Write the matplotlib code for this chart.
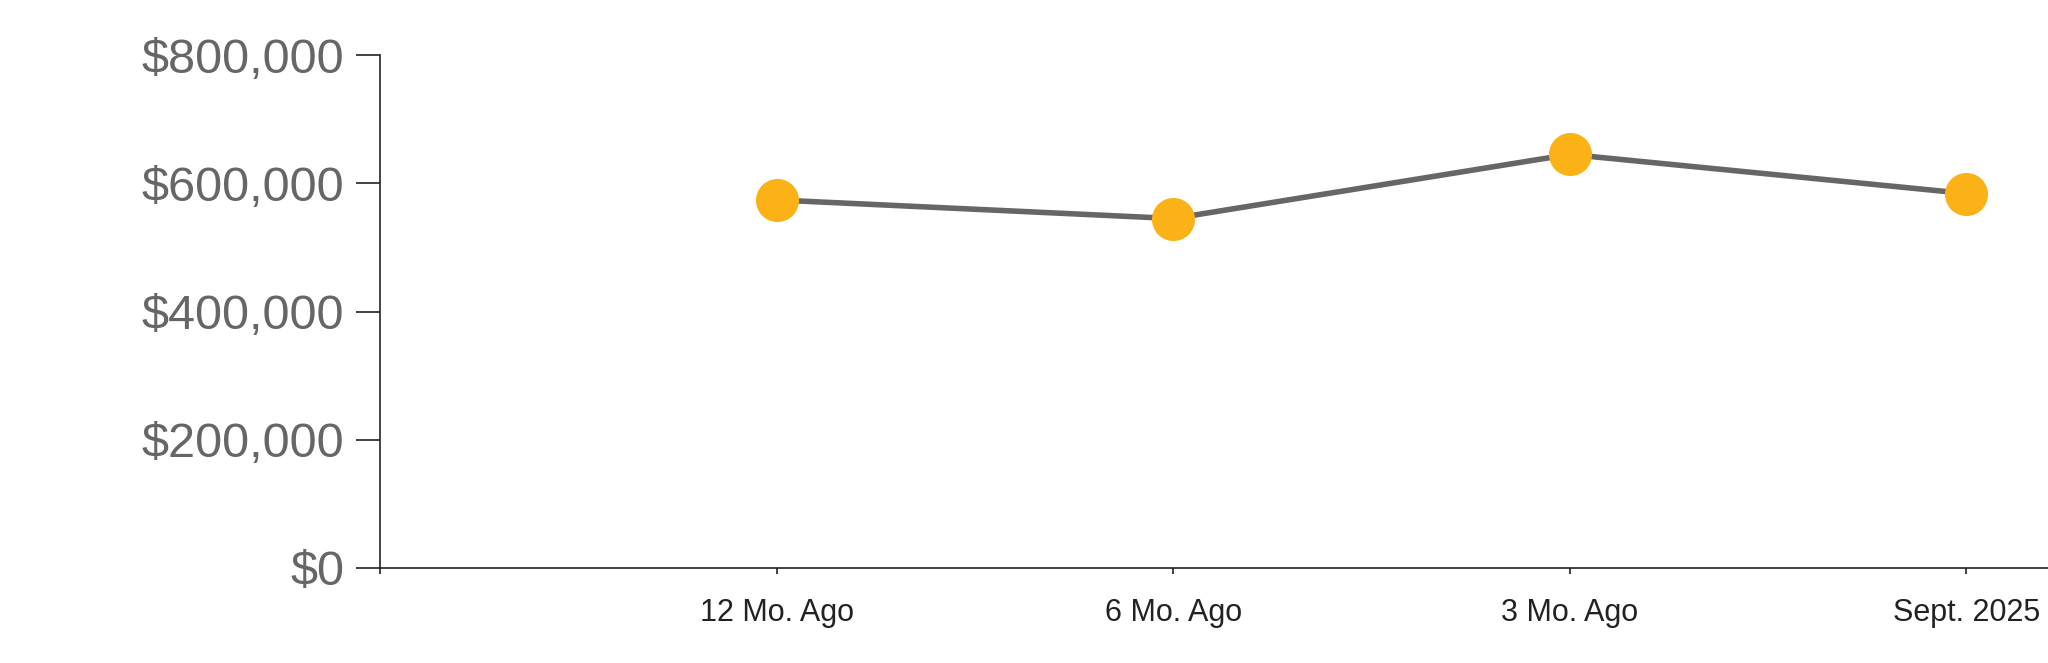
#! /usr/bin/env python3
#
import matplotlib
matplotlib.use('Agg')
import matplotlib.pyplot as plt
from matplotlib.ticker import FuncFormatter

labels = ['12 Mo. Ago', '6 Mo. Ago', '3 Mo. Ago', 'Sept. 2025']
prices = [574000, 545000, 645000, 584000]
y_ticks = [0, 200000, 400000, 600000, 800000]


def money(v, pos):
    return '${:,.0f}'.format(v)


def main():
    plt.rcParams['font.family'] = ['Liberation Sans', 'DejaVu Sans']

    fig = plt.figure(figsize=(20.48, 6.63), dpi=100)
    ax = fig.add_axes([0.1855, 0.1433, 0.8145, 0.7737])

    x = list(range(1, len(labels) + 1))
    ax.plot(x, prices, color='#666666', lw=4, zorder=2, clip_on=False)
    ax.plot(x, prices, 'o', ms=30, color='#FBB217', mec='#FBB217',
            zorder=3, clip_on=False)

    ax.set_xlim(0, 4.206)
    ax.set_ylim(0, 800000)

    ax.set_yticks(y_ticks)
    ax.yaxis.set_major_formatter(FuncFormatter(money))
    ax.tick_params(axis='y', length=17, width=1.2, pad=8.5,
                   labelsize=35, labelcolor='#666666', color='#222222')

    ax.set_xticks(x)
    ax.set_xticklabels(labels)
    ax.set_xticks([0], minor=True)
    ax.tick_params(axis='x', which='both', length=4.5, width=1.2, pad=17,
                   labelsize=22, labelcolor='#222222', color='#222222')

    for side in ('top', 'right'):
        ax.spines[side].set_visible(False)
    for side in ('left', 'bottom'):
        ax.spines[side].set_linewidth(1.2)
        ax.spines[side].set_color('#222222')

    fig.savefig('out.png', dpi=100)


if (__name__ == '__main__'):
    main()
